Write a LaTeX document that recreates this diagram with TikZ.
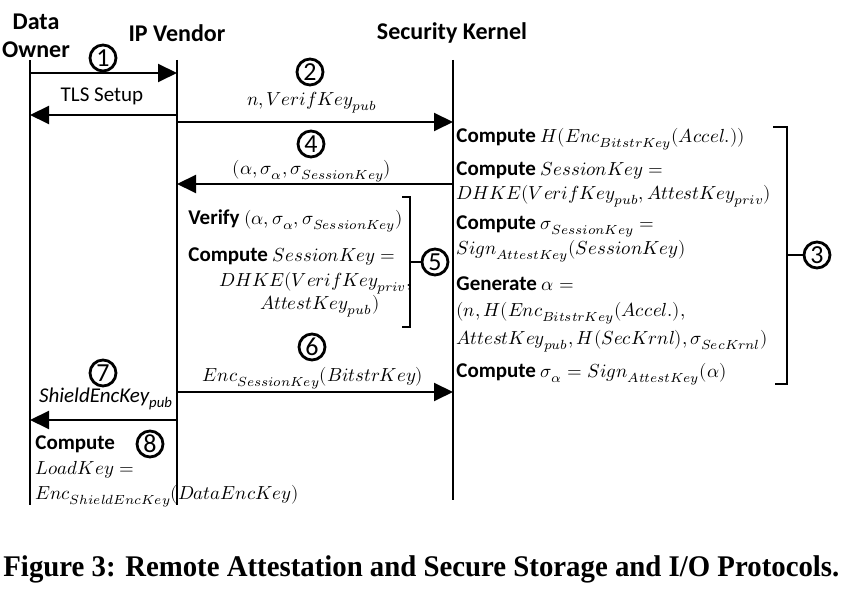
\documentclass[tikz,border=0pt]{standalone}
\usepackage{fontspec}
\usepackage{unicode-math}
\setmainfont{Carlito}
\setmathfont{Latin Modern Math}[Scale=0.9]
\newfontfamily\capfont{Liberation Serif}
\usetikzlibrary{arrows.meta,positioning}

\begin{document}
\begin{tikzpicture}[
  x=0.5pt, y=-0.5pt,
  lifeline/.style={line width=1pt},
  msg/.style={line width=1pt, -{Triangle[length=9.5pt,width=9pt]}},
  bracket/.style={line width=0.75pt},
  numcircle/.style={draw, circle, line width=1.4pt, inner sep=0pt,
    minimum size=13pt, font=\fontsize{13}{13}\selectfont},
  ]
  \useasboundingbox (0,0) rectangle (847,592);
  % parties and their lifelines
  \begin{scope}[
    every node/.style={
      align=center,
      inner sep=0pt,
      font=\fontsize{12}{14}\selectfont\bfseries,
    },
    ]
    \node (owner-head)  at (36,36)  {Data\\Owner};
    \node (vendor-head) at (177,33) {IP Vendor};
    \node (kernel-head) at (452,33) {Security Kernel};
  \end{scope}
  \coordinate (owner-top)  at (30,60);
  \coordinate (owner-bot)  at (30,505);
  \coordinate (vendor-top) at (177,60);
  \coordinate (vendor-bot) at (177,505);
  \coordinate (kernel-top) at (453,60);
  \coordinate (kernel-bot) at (453,500);
  \path[draw,lifeline] (owner-top) -- (owner-bot);
  \path[draw,lifeline] (vendor-top) -- (vendor-bot);
  \path[draw,lifeline] (kernel-top) -- (kernel-bot);
  % message heights
  \coordinate (tls-out)  at (0,73);
  \coordinate (tls-back) at (0,115);
  \coordinate (verif)    at (0,122);
  \coordinate (attest)   at (0,184);
  \coordinate (bitstr)   at (0,392);
  \coordinate (shield)   at (0,420);
  % step numbers
  \node[numcircle] (step-1) at (103,58)  {1};
  \node[numcircle] (step-2) at (310,72)  {2};
  \node[numcircle] (step-3) at (817,255) {3};
  \node[numcircle] (step-4) at (311,144) {4};
  \node[numcircle] (step-5) at (435,262) {5};
  \node[numcircle] (step-6) at (312,347) {6};
  \node[numcircle] (step-7) at (103,373) {7};
  \node[numcircle] (step-8) at (150,444) {8};
  % message labels
  \begin{scope}[
    every node/.style={
      anchor=base,
      inner sep=0pt,
      font=\fontsize{10.5}{12}\selectfont,
    },
    ]
    \node (tls-label)    at (102,102) {TLS Setup};
    \node (verif-label)  at (312,106) {$n, VerifKey_{pub}$};
    \node (attest-label) at (312,175) {$(\alpha, \sigma_{\alpha}, \sigma_{SessionKey})$};
    \node (bitstr-label) at (313,382) {$Enc_{SessionKey}(BitstrKey)$};
    \node (shield-label) at (106,403) {\itshape ShieldEncKey\textsubscript{pub}};
  \end{scope}
  % computations
  \begin{scope}[
    every node/.style={
      anchor=base west,
      inner sep=0pt,
      font=\fontsize{10.5}{12}\selectfont,
    },
    ]
    \node (kernel-hash)    at (456,143) {\textbf{Compute} $H(Enc_{BitstrKey}(Accel.))$};
    \node (kernel-sk)      at (456,176) {\textbf{Compute} $SessionKey =$};
    \node (kernel-dhke)    at (456,200) {$DHKE(VerifKey_{pub}, AttestKey_{priv})$};
    \node (kernel-sig)     at (456,230) {\textbf{Compute} $\sigma_{SessionKey} =$};
    \node (kernel-sign)    at (456,255) {$Sign_{AttestKey}(SessionKey)$};
    \node (kernel-gen)     at (456,291) {\textbf{Generate} $\alpha =$};
    \node (kernel-alpha-1) at (456,317) {$(n, H(Enc_{BitstrKey}(Accel.),$};
    \node (kernel-alpha-2) at (456,345) {$AttestKey_{pub}, H(SecKrnl), \sigma_{SecKrnl})$};
    \node (kernel-sigma)   at (456,378) {\textbf{Compute} $\sigma_{\alpha} = Sign_{AttestKey}(\alpha)$};
    \node (vendor-verify)  at (188,225) {\textbf{Verify} $(\alpha, \sigma_{\alpha}, \sigma_{SessionKey})$};
    \node (vendor-sk)      at (188,262) {\textbf{Compute} $SessionKey =$};
    \node[anchor=base east] (vendor-dhke-1) at (412,287) {$DHKE(VerifKey_{priv},$};
    \node[anchor=base east] (vendor-dhke-2) at (380,310) {$AttestKey_{pub})$};
    \node (owner-compute)  at (35,450)  {\textbf{Compute}};
    \node (owner-load)     at (35,475)  {$LoadKey =$};
    \node (owner-enc)      at (35,500)  {$Enc_{ShieldEncKey}(DataEncKey)$};
  \end{scope}
  % messages
  \draw[msg] (owner-top |- tls-out) -- (vendor-top |- tls-out);
  \draw[msg] (vendor-top |- tls-back) -- (owner-top |- tls-back);
  \draw[msg] (vendor-top |- verif) -- (kernel-top |- verif);
  \draw[msg] (kernel-top |- attest) -- (vendor-top |- attest);
  \draw[msg] (vendor-top |- bitstr) -- (kernel-top |- bitstr);
  \draw[msg] (vendor-top |- shield) -- (owner-top |- shield);
  % brackets
  \coordinate (kernel-br-top) at (787,127);
  \coordinate (kernel-br-bot) at (787,384);
  \coordinate (vendor-br-top) at (410,197);
  \coordinate (vendor-br-bot) at (410,327);
  \draw[bracket] ([xshift=-7pt]kernel-br-top) -- (kernel-br-top) -- (kernel-br-bot)
    -- ([xshift=-6pt]kernel-br-bot);
  \draw[bracket] (kernel-br-top |- step-3) -- (step-3.west);
  \draw[bracket] ([xshift=-4pt]vendor-br-top) -- (vendor-br-top) -- (vendor-br-bot)
    -- ([xshift=-4pt]vendor-br-bot);
  \draw[bracket] (vendor-br-top |- step-5) -- (step-5.west);
  % caption
  \node[anchor=base west, inner sep=0pt] (caption) at (3,577)
    {\capfont\bfseries\fontsize{15}{18}\selectfont\scalebox{0.96}[1]{Figure 3: Remote Attestation and Secure Storage and I/O Protocols.}};
\end{tikzpicture}
\end{document}
